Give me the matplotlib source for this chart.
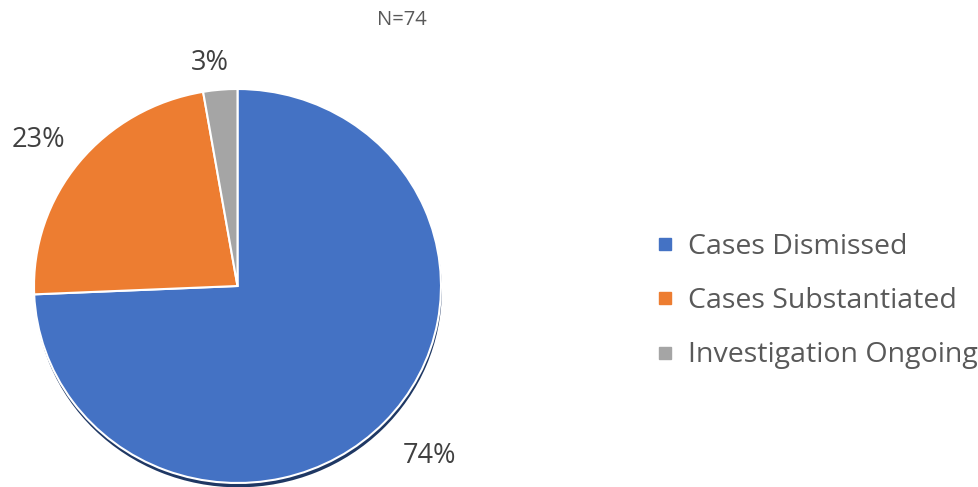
import matplotlib
matplotlib.use("Agg")
import matplotlib.pyplot as plt
from matplotlib.lines import Line2D

categories = ["Cases Dismissed", "Cases Substantiated", "Investigation Ongoing"]
counts = [55, 17, 2]
pct_labels = ["74%", "23%", "3%"]
colors = ["#4472C4", "#ED7D31", "#A5A5A5"]
total_label = "N=74"

plt.rcParams['font.family'] = ['Open Sans', 'DejaVu Sans']

W, H = 979, 487
fig = plt.figure(figsize=(W / 100, H / 100), dpi=100)
cx, cy, rx, ry = 237.5, 286, 203.5, 197
ax = fig.add_axes([(cx - rx) / W, (H - cy - ry) / H, 2 * rx / W, 2 * ry / H])
ax.axis('off')

# shadow
ax.pie([1], colors=["#1F3864"], radius=1.0, center=(0.004, -0.022),
       wedgeprops=dict(linewidth=0), frame=False)
wedges, _ = ax.pie(counts, colors=colors, startangle=90, counterclock=False,
                   radius=1.0, wedgeprops=dict(edgecolor="white", linewidth=1.5),
                   frame=False)
ax.set_aspect('auto')
ax.set_xlim(-1, 1)
ax.set_ylim(-1, 1)

def to_data(px, py):
    return (px - cx) / rx, (cy - py) / ry

label_px = [(430, 456), (38, 140), (210, 63)]
for (px, py), t in zip(label_px, pct_labels):
    x, y = to_data(px, py)
    ax.text(x, y, t, ha='center', va='center', fontsize=19.5, color="#404040",
            clip_on=False)

fig.text(402 / W, 1 - 20 / H, total_label, ha='center', va='center',
         fontsize=14.5, color="#595959")

handles = [Line2D([0], [0], marker='s', linestyle='none', markersize=8,
                  markerfacecolor=c, markeredgecolor=c) for c in colors]
fig.legend(handles, categories, loc='center left',
           bbox_to_anchor=(657 / W, 1 - 301 / H), frameon=False,
           fontsize=20.5, labelcolor="#595959", handlelength=0.55,
           handletextpad=0.55, labelspacing=0.93, borderpad=0, borderaxespad=0)

fig.savefig("out.png", dpi=100)
